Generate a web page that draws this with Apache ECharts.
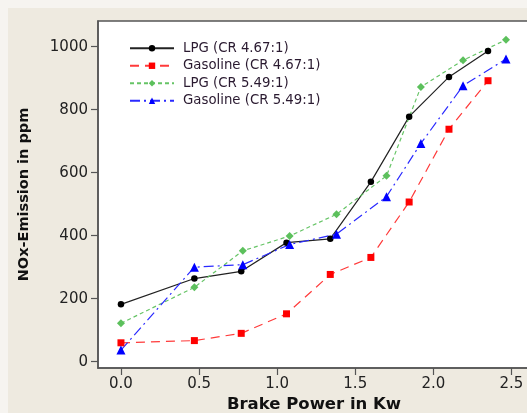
<!DOCTYPE html>
<html>
<head>
<meta charset="utf-8">
<script src="https://cdn.jsdelivr.net/npm/echarts@6/dist/echarts.min.js"></script>
<style>
html,body{margin:0;padding:0;background:#f6f4f0;}
#c{width:527px;height:413px;}
</style>
</head>
<body>
<div id="c"></div>
<script>
const seriesNames = ['LPG (CR 4.67:1)', 'Gasoline (CR 4.67:1)', 'LPG (CR 5.49:1)', 'Gasoline (CR 5.49:1)'];
const x467 = [0, 0.47, 0.77, 1.06, 1.34, 1.60, 1.845, 2.10, 2.35];
const lpg467 = [182, 264, 287, 378, 390, 571, 778, 904, 986];
const gas467 = [60, 67, 90, 152, 277, 331, 507, 738, 892];
const x549 = [0, 0.47, 0.78, 1.08, 1.38, 1.70, 1.92, 2.19, 2.465];
const lpg549 = [122, 236, 352, 399, 468, 590, 872, 957, 1022];
const gas549 = [37, 300, 308, 372, 405, 524, 693, 876, 961];
const xTicks = [0, 0.5, 1.0, 1.5, 2.0, 2.5];
const yTicks = [0, 200, 400, 600, 800, 1000];

const pair = (xs, ys) => xs.map((x, i) => [x, ys[i]]);
const chart = echarts.init(document.getElementById('c'), null, {renderer: 'canvas'});
const font = 'DejaVu Sans';
chart.setOption({
  animation: false,
  backgroundColor: '#f6f4f0',
  graphic: [
    {type: 'rect', z: -10, silent: true, shape: {x: 8, y: 8, width: 530, height: 410}, style: {fill: '#eeeae0'}}
  ],
  grid: {left: 98, top: 21, width: 460, height: 347, outerBoundsMode: 'none', containLabel: false,
    show: true, backgroundColor: '#ffffff', borderColor: '#555555', borderWidth: 1.5},
  legend: {
    orient: 'vertical', left: 124, top: 35.5, itemWidth: 44, itemHeight: 8, itemGap: 2,
    textStyle: {fontFamily: font, fontSize: 13.3, color: '#2a1a30', padding: [0, 0, 0, 4], lineHeight: 15.5},
    data: seriesNames
  },
  xAxis: {
    type: 'value', min: -0.147, max: 2.798,
    axisLine: {show: true, onZero: false, lineStyle: {color: '#555', width: 1.5}},
    axisTick: {show: true, length: 7, inside: false, customValues: xTicks, lineStyle: {color: '#555', width: 1.2}},
    axisLabel: {customValues: xTicks, margin: 9, fontFamily: font, fontSize: 15, color: '#222',
      formatter: v => v.toFixed(1)},
    splitLine: {show: false},
    name: 'Brake Power in Kw', nameLocation: 'start', nameGap: 0,
    nameTextStyle: {fontFamily: font, fontWeight: 'bold', fontSize: 16.5, color: '#111'}
  },
  yAxis: {
    type: 'value', min: -20, max: 1081.6,
    axisLine: {show: true, onZero: false, lineStyle: {color: '#555', width: 1.5}},
    axisTick: {show: true, length: 7, inside: false, customValues: yTicks, lineStyle: {color: '#555', width: 1.2}},
    axisLabel: {customValues: yTicks, margin: 10, fontFamily: font, fontSize: 15, color: '#222',
      formatter: v => String(Math.round(v))},
    splitLine: {show: false},
    name: 'NOx-Emission in ppm', nameLocation: 'middle', nameGap: 66, nameRotate: 90,
    nameTextStyle: {fontFamily: font, fontWeight: 'bold', fontSize: 14.5, color: '#111'}
  },
  series: [
    {name: seriesNames[0], type: 'line', data: pair(x467, lpg467), symbol: 'circle', symbolSize: 6.5,
      itemStyle: {color: '#000'}, lineStyle: {color: '#222', width: 1.2, type: 'solid'}},
    {name: seriesNames[1], type: 'line', data: pair(x467, gas467), symbol: 'rect', symbolSize: 7,
      itemStyle: {color: '#ff0000'}, lineStyle: {color: '#ff3a3a', width: 1.2, type: [9, 6]}},
    {name: seriesNames[2], type: 'line', data: pair(x549, lpg549), symbol: 'diamond', symbolSize: 8,
      itemStyle: {color: '#5cc05c'}, lineStyle: {color: '#66c466', width: 1.2, type: [4, 3]}},
    {name: seriesNames[3], type: 'line', data: pair(x549, gas549), symbol: 'triangle', symbolSize: 9,
      itemStyle: {color: '#0000ff'}, lineStyle: {color: '#2a2aff', width: 1.2, type: [10, 4, 2, 4]}}
  ]
});
// Place the x-axis title centred under the visible part of the plot, as in the reference
chart.setOption({xAxis: {name: ''}, graphic: [
  {type: 'rect', z: -10, silent: true, shape: {x: 8, y: 8, width: 530, height: 410}, style: {fill: '#eeeae0'}},
  {type: 'text', silent: true, x: 314, y: 405, style: {text: 'Brake Power in Kw', align: 'center', verticalAlign: 'middle',
    font: 'bold 16.5px "DejaVu Sans"', fill: '#111'}}
]});
</script>
</body>
</html>
